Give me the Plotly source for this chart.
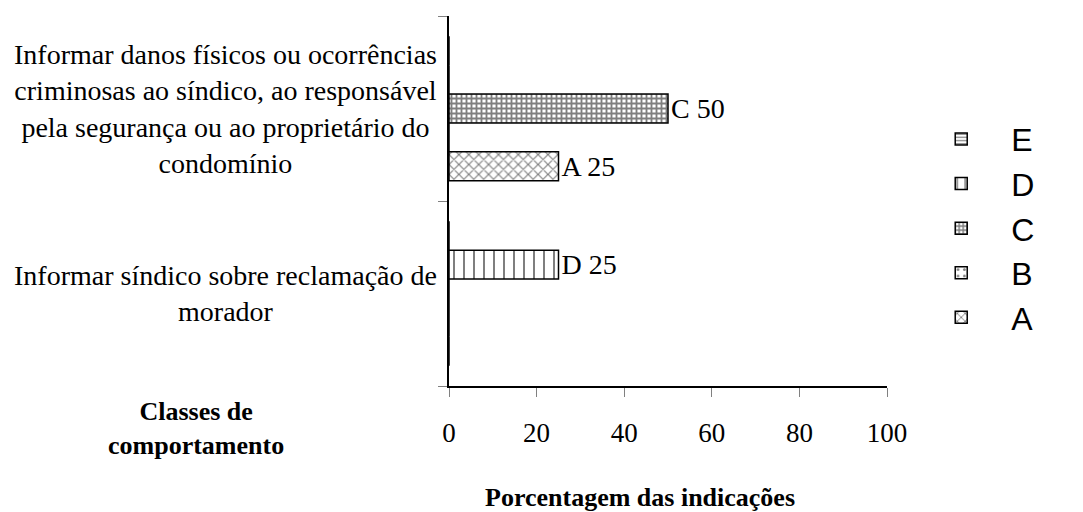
import plotly.graph_objects as go

categories = [
    "Informar síndico sobre reclamação de morador",
    "Informar danos físicos ou ocorrências criminosas ao síndico, ao responsável pela segurança ou ao proprietário do condomínio",
]
category_labels = [
    "Informar síndico sobre reclamação de<br>morador",
    "Informar danos físicos ou ocorrências<br>criminosas ao síndico, ao responsável<br>pela segurança ou ao proprietário do<br>condomínio",
]
series_names = ["A", "B", "C", "D", "E"]
values_A = [0, 25]
values_B = [0, 0]
values_C = [0, 50]
values_D = [25, 0]
values_E = [0, 0]
x_ticks = [0, 20, 40, 60, 80, 100]

SERIF = "Liberation Serif"
SANS = "Liberation Sans"
patterns = {
    "A": dict(shape="x", size=7, solidity=0.3),
    "B": dict(shape=".", size=8, solidity=0.15),
    "C": dict(shape="+", size=5, solidity=0.6),
    "D": dict(shape="|", size=10, solidity=0.2),
    "E": dict(shape="-", size=4, solidity=0.4),
}

fig = go.Figure()
for name, vals in zip(series_names, [values_A, values_B, values_C, values_D, values_E]):
    labels = [f"{name} {v}" if v > 0 else "" for v in vals]
    fig.add_trace(go.Bar(
        name=name, y=categories, x=vals, orientation="h",
        text=labels, textposition="outside", constraintext="none", cliponaxis=False,
        textfont=dict(family=SERIF, size=28, color="black"),
        marker=dict(
            color="white",
            line=dict(color="black", width=1.5),
            pattern=dict(fgcolor="black", bgcolor="white", **patterns[name]),
        ),
    ))

# category labels sit on the category positions, centred like the original
for cat, lab in zip(categories, category_labels):
    fig.add_annotation(
        x=-0.511, xref="paper", y=cat, yref="y", text=lab, showarrow=False,
        xanchor="center", yanchor="middle", align="center",
        font=dict(family=SERIF, size=28, color="black"),
    )

fig.add_annotation(
    x=-0.578, xref="paper", y=-0.115, yref="paper",
    text="<b>Classes de<br>comportamento</b>", showarrow=False,
    xanchor="center", yanchor="middle", align="center",
    font=dict(family=SERIF, size=26, color="black"),
)
fig.add_annotation(
    x=0.437, xref="paper", y=-0.30, yref="paper",
    text="<b>Porcentagem das indicações</b>", showarrow=False,
    xanchor="center", yanchor="middle",
    font=dict(family=SERIF, size=26, color="black"),
)

fig.update_layout(
    width=1083, height=512,
    paper_bgcolor="white", plot_bgcolor="white",
    margin=dict(l=441, r=204, t=8, b=134, autoexpand=False),
    barmode="group", bargap=0.22, bargroupgap=0,
    showlegend=True,
    legend=dict(
        traceorder="reversed", xref="container", yref="container",
        x=0.834, xanchor="left", y=0.570, yanchor="middle",
        font=dict(family=SANS, size=32, color="black"), itemwidth=90,
        bgcolor="rgba(0,0,0,0)",
    ),
)
fig.update_xaxes(
    range=[0, 100], tickvals=x_ticks, ticks="outside", ticklen=9, tickcolor="#808080",
    showline=True, linecolor="black", linewidth=1.5, showgrid=False, zeroline=False,
    tickfont=dict(family=SERIF, size=27, color="black"), ticklabelstandoff=13,
    automargin=False,
)
fig.update_yaxes(
    categoryorder="array", categoryarray=categories,
    showticklabels=False, ticks="outside", tickson="boundaries", ticklen=9,
    tickcolor="#808080", showline=True, linecolor="black", linewidth=1.5, showgrid=False,
    automargin=False,
)

fig.write_html("out.html")
